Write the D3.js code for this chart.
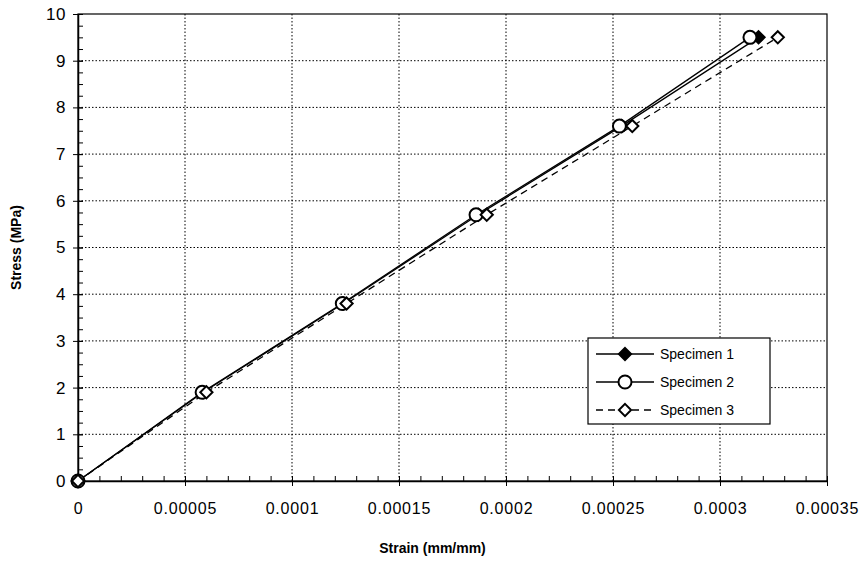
<!DOCTYPE html>
<html>
<head>
<meta charset="utf-8">
<script src="https://cdn.jsdelivr.net/npm/d3@7"></script>
<style>
  body { margin: 0; background: #fff; }
  text { font-family: "Liberation Sans", Arial, sans-serif; fill: #000; }
</style>
</head>
<body>
<svg id="chart" width="862" height="562"></svg>
<script>
// stress levels shared by all specimens (MPa)
var stress = [0, 1.9, 3.8, 5.7, 7.6, 9.5];

// strain readings (mm/mm)
var specimen1 = [0, 0.0000585, 0.000124, 0.000187, 0.000254, 0.000318];
var specimen2 = [0, 0.000058, 0.0001235, 0.000186, 0.000253, 0.000314];
var specimen3 = [0, 0.000060, 0.0001255, 0.000191, 0.000259, 0.000327];

var seriesNames = ["Specimen 1", "Specimen 2", "Specimen 3"];
var xTicks = [0, 0.00005, 0.0001, 0.00015, 0.0002, 0.00025, 0.0003, 0.00035];
var xTickLabels = ["0", "0.00005", "0.0001", "0.00015", "0.0002", "0.00025", "0.0003", "0.00035"];
var yTicks = [0, 1, 2, 3, 4, 5, 6, 7, 8, 9, 10];

var svg = d3.select("#chart"),
    margin = {top: 14, right: 35, bottom: 81, left: 78},
    width = +svg.attr("width") - margin.left - margin.right,
    height = +svg.attr("height") - margin.top - margin.bottom,
    g = svg.append("g").attr("transform", "translate(" + margin.left + "," + margin.top + ")");

var x = d3.scaleLinear().domain([0, 0.00035]).range([0, width]),
    y = d3.scaleLinear().domain([0, 10]).range([height, 0]);

// grid
g.selectAll(".vgrid").data(xTicks.slice(1, -1)).enter().append("line")
    .attr("x1", function(d) { return x(d); }).attr("x2", function(d) { return x(d); })
    .attr("y1", 0).attr("y2", height)
    .attr("stroke", "#000").attr("stroke-width", 1).attr("stroke-dasharray", "1.5,2");
g.selectAll(".hgrid").data(yTicks.slice(1, -1)).enter().append("line")
    .attr("y1", function(d) { return y(d); }).attr("y2", function(d) { return y(d); })
    .attr("x1", 0).attr("x2", width)
    .attr("stroke", "#000").attr("stroke-width", 1).attr("stroke-dasharray", "1.5,2");

// frame
g.append("rect").attr("width", width).attr("height", height)
    .attr("fill", "none").attr("stroke", "#000").attr("stroke-width", 1.2);

// minor ticks (inward)
var xMinor = d3.range(0, 36).map(function(i) { return i * 0.00001; });
g.append("g")
    .attr("transform", "translate(0," + height + ")")
    .call(d3.axisBottom(x).tickValues(xMinor).tickSize(-5).tickFormat(""))
    .call(function(s) { s.select(".domain").remove(); });
var yMinor = d3.range(0, 41).map(function(i) { return i * 0.25; });
g.append("g")
    .call(d3.axisLeft(y).tickValues(yMinor).tickSize(-5).tickFormat(""))
    .call(function(s) { s.select(".domain").remove(); });

// major axes
var xAxis = g.append("g")
    .attr("transform", "translate(0," + height + ")")
    .call(d3.axisBottom(x).tickValues(xTicks).tickSizeInner(5).tickSizeOuter(0)
      .tickFormat(function(d, i) { return xTickLabels[i]; }));
xAxis.selectAll(".tick line").attr("y1", -5).attr("y2", 5);
xAxis.selectAll("text").attr("y", 22).style("font-size", "16px").style("letter-spacing", "0.8px");
xAxis.select(".domain").attr("stroke-width", 1.5);

var yAxis = g.append("g")
    .call(d3.axisLeft(y).tickValues(yTicks).tickSizeInner(5).tickSizeOuter(0));
yAxis.selectAll(".tick line").attr("x1", -5).attr("x2", 5);
yAxis.selectAll("text").attr("x", -12).style("font-size", "17px").style("letter-spacing", "0.5px");
yAxis.select(".domain").attr("stroke-width", 1.5);

// axis titles
svg.append("text")
    .attr("transform", "translate(21," + (margin.top + height / 2) + ") rotate(-90)")
    .attr("text-anchor", "middle")
    .style("font-size", "14px").style("font-weight", "bold")
    .text("Stress (MPa)");
svg.append("text")
    .attr("x", margin.left + width / 2 - 20).attr("y", 553)
    .attr("text-anchor", "middle")
    .style("font-size", "14px").style("font-weight", "bold")
    .text("Strain (mm/mm)");

var series = [specimen1, specimen2, specimen3].map(function(vals, i) {
  return { name: seriesNames[i], values: vals.map(function(v, j) { return {strain: v, stress: stress[j]}; }) };
});
var dashes = [null, null, "7,5"];
var diamond = d3.symbol().type(d3.symbolDiamond2).size(95);

var line = d3.line()
    .x(function(d) { return x(d.strain); })
    .y(function(d) { return y(d.stress); });

function drawMarker(sel, i) {
  if (i === 1) {
    sel.append("circle").attr("r", 6.5).attr("fill", "#fff").attr("stroke", "#000").attr("stroke-width", 2);
  } else {
    sel.append("path").attr("d", diamond)
        .attr("fill", i === 0 ? "#000" : "#fff").attr("stroke", "#000").attr("stroke-width", 2);
  }
}

series.forEach(function(s, i) {
  g.append("path")
      .attr("d", line(s.values))
      .attr("fill", "none").attr("stroke", "#000").attr("stroke-width", 1.3)
      .attr("stroke-dasharray", dashes[i]);
});
series.forEach(function(s, i) {
  g.selectAll(".m" + i).data(s.values).enter().append("g")
      .attr("transform", function(d) { return "translate(" + x(d.strain) + "," + y(d.stress) + ")"; })
      .each(function() { drawMarker(d3.select(this), i); });
});

// legend
var legend = svg.append("g").attr("transform", "translate(588,338)");
legend.append("rect").attr("width", 182).attr("height", 86)
    .attr("fill", "#fff").attr("stroke", "#000").attr("stroke-width", 1.2);
series.forEach(function(s, i) {
  var row = legend.append("g").attr("transform", "translate(0," + (16 + i * 28) + ")");
  row.append("line").attr("x1", 8).attr("x2", 66)
      .attr("stroke", "#000").attr("stroke-width", 1.3).attr("stroke-dasharray", dashes[i]);
  var m = row.append("g").attr("transform", "translate(37,0)");
  drawMarker(m, i);
  row.append("text").attr("x", 72).attr("dy", "0.35em")
      .style("font-size", "14px").text(s.name);
});
</script>
</body>
</html>
